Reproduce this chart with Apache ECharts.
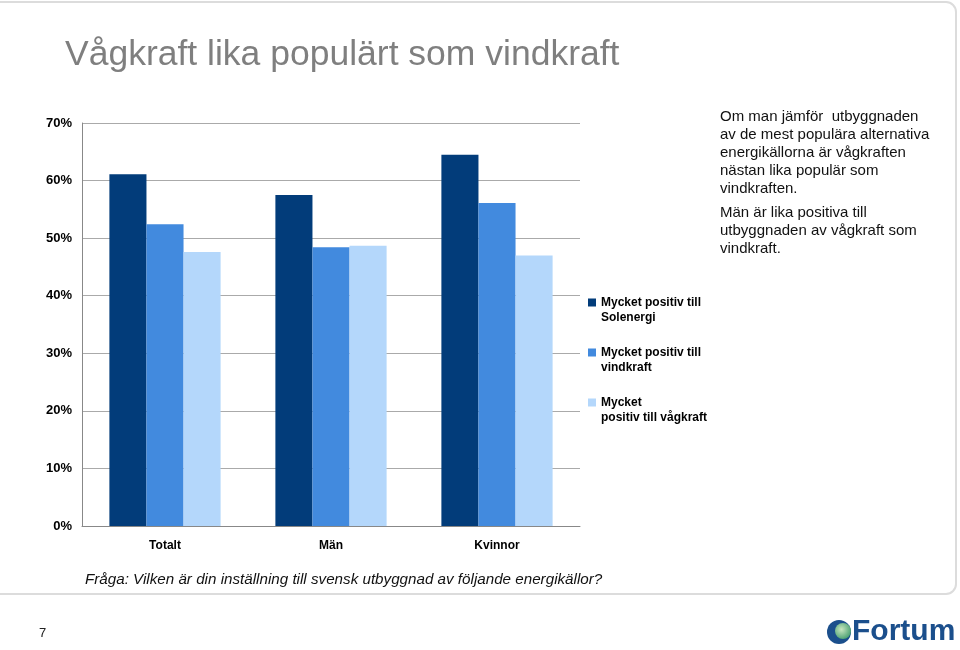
<!DOCTYPE html>
<html><head><meta charset="utf-8">
<script src="https://cdn.jsdelivr.net/npm/echarts@6/dist/echarts.min.js"></script>
<style>html,body{margin:0;padding:0;background:#fff}#c{width:960px;height:650px}</style>
</head><body><div id="c"></div>
<script>
const categories = ['Totalt', 'Män', 'Kvinnor'];
const seriesNames = ['Mycket positiv till Solenergi', 'Mycket positiv till vindkraft', 'Mycket positiv till vågkraft'];
const legendLabels = ['Mycket positiv till\nSolenergi', 'Mycket positiv till\nvindkraft', 'Mycket\npositiv till vågkraft'];
const solenergi = [61.1, 57.5, 64.5];
const vindkraft = [52.4, 48.4, 56.1];
const vagkraft = [47.6, 48.7, 47.0];
const colors = ['#023c7a', '#428ade', '#b4d7fb'];
const yTicks = [0, 10, 20, 30, 40, 50, 60, 70];

const chart = echarts.init(document.getElementById('c'));
const allData = [solenergi, vindkraft, vagkraft];
const legendIcon = 'path://M0,0L0.01,0L0.01,0.01ZM0,30L0.01,30L0.01,29.99ZM0,3.5L8,3.5L8,11.5L0,11.5Z';
chart.setOption({
  animation: false,
  textStyle: { fontFamily: 'Liberation Sans, Arial, sans-serif' },
  grid: { left: 82, right: 380, top: 123, bottom: 124 },
  legend: {
    orient: 'vertical', left: 588, top: 295, padding: 0, itemWidth: 8, itemHeight: 30, itemGap: 20,
    icon: legendIcon,
    data: seriesNames,
    formatter: n => legendLabels[seriesNames.indexOf(n)],
    textStyle: { fontSize: 12, fontWeight: 'bold', color: '#000', lineHeight: 15 }
  },
  xAxis: {
    type: 'category', data: categories,
    axisLine: { lineStyle: { color: '#888', width: 1 } },
    axisTick: { show: false },
    axisLabel: { fontSize: 12, fontWeight: 'bold', color: '#000', margin: 14 }
  },
  yAxis: {
    type: 'value', min: yTicks[0], max: yTicks[yTicks.length - 1], interval: 10,
    axisLine: { show: true, lineStyle: { color: '#888' } },
    axisTick: { show: false },
    splitLine: { lineStyle: { color: '#aaa' } },
    axisLabel: { fontSize: 13, fontWeight: 'bold', color: '#000', margin: 10, formatter: v => v + '%' }
  },
  series: seriesNames.map((n, i) => ({
    name: n, type: 'bar', data: allData[i], barGap: '0%', barCategoryGap: '33%',
    itemStyle: { color: colors[i] }
  })),
  graphic: [
    { type: 'rect', shape: { x: -20, y: 2, width: 976, height: 592, r: 10 }, style: { fill: 'none', stroke: '#dcdcdc', lineWidth: 2 }, silent: true },
    { type: 'text', left: 65, top: 37, style: { text: 'Vågkraft lika populärt som vindkraft', font: '35.5px "Liberation Sans", Arial, sans-serif', fill: '#7f7f7f' } },
    { type: 'text', left: 720, top: 108, style: {
      text: 'Om man jämför  utbyggnaden\nav de mest populära alternativa\nenergikällorna är vågkraften\nnästan lika populär som\nvindkraften.',
      font: '15px "Liberation Sans", Arial, sans-serif', fill: '#111', lineHeight: 18 } },
    { type: 'text', left: 720, top: 204, style: {
      text: 'Män är lika positiva till\nutbyggnaden av vågkraft som\nvindkraft.',
      font: '15px "Liberation Sans", Arial, sans-serif', fill: '#111', lineHeight: 18 } },
    { type: 'text', left: 85, top: 572, style: { text: 'Fråga: Vilken är din inställning till svensk utbyggnad av följande energikällor?', font: 'italic 15.2px "Liberation Sans", Arial, sans-serif', fill: '#111' } },
    { type: 'text', left: 39, top: 627, style: { text: '7', font: '13px "Liberation Sans", Arial, sans-serif', fill: '#222' } },
    { type: 'circle', shape: { cx: 839, cy: 632, r: 12 }, style: { fill: '#1b4f8c' } },
    { type: 'circle', shape: { cx: 843, cy: 631, r: 8 }, style: { fill: new echarts.graphic.RadialGradient(0.4, 0.4, 0.7, [{ offset: 0, color: '#c8e6c0' }, { offset: 1, color: '#3e9a6a' }]) } },
    { type: 'text', left: 852, top: 617, style: { text: 'Fortum', font: 'bold 30px "Liberation Sans", Arial, sans-serif', fill: '#1b4f8c' } }
  ]
});
</script>
</body></html>
